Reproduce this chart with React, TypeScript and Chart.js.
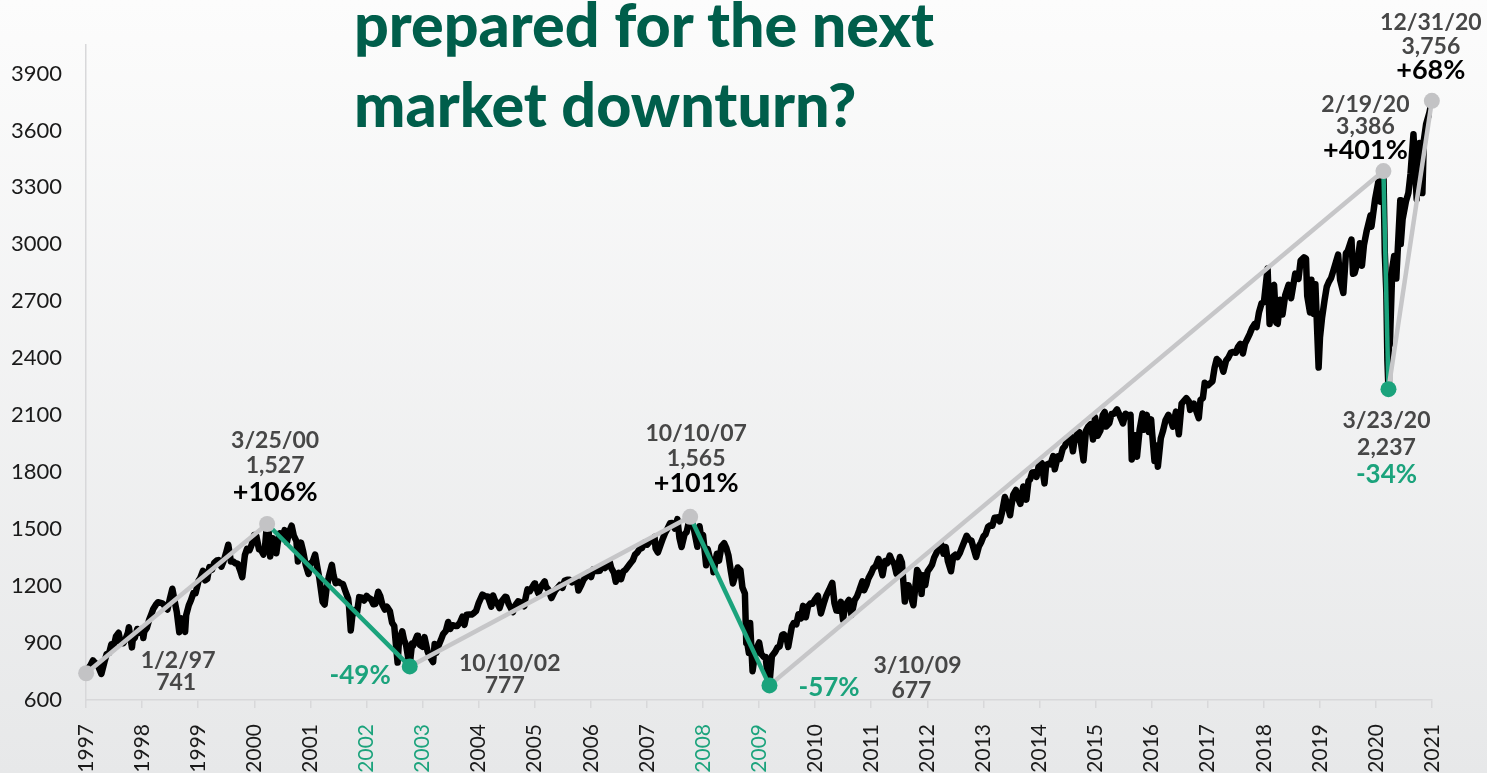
import React, { useEffect, useRef } from "react";
import { Chart, registerables } from "chart.js";

Chart.register(...registerables);

// ---- S&P 500 closes ----
const closeDates = [
  "1997-01-02","1997-01-15","1997-02-01","1997-02-15","1997-03-01","1997-03-15","1997-04-01","1997-04-11","1997-05-01","1997-05-15","1997-06-01","1997-06-15","1997-07-01","1997-07-15","1997-08-01","1997-08-15","1997-09-01","1997-09-15","1997-10-01","1997-10-07","1997-10-27","1997-11-01","1997-11-15","1997-12-01","1997-12-15",
  "1998-01-02","1998-01-09","1998-01-15","1998-02-01","1998-02-15","1998-03-01","1998-03-15","1998-04-01","1998-04-15","1998-05-01","1998-05-15","1998-06-01","1998-06-15","1998-07-01","1998-07-17","1998-08-01","1998-08-15","1998-08-31","1998-09-15","1998-10-08","1998-10-15","1998-11-01","1998-11-15","1998-12-01","1998-12-15",
  "1999-01-04","1999-01-15","1999-02-01","1999-02-15","1999-03-01","1999-03-15","1999-04-01","1999-04-15","1999-05-03","1999-05-14","1999-06-01","1999-06-15","1999-07-01","1999-07-16","1999-08-02","1999-08-16","1999-09-01","1999-09-15","1999-10-01","1999-10-15","1999-11-01","1999-11-15","1999-12-01","1999-12-15","1999-12-31",
  "2000-01-14","2000-02-01","2000-02-15","2000-03-01","2000-03-10","2000-03-24","2000-04-03","2000-04-14","2000-05-01","2000-05-24","2000-06-01","2000-06-15","2000-07-03","2000-07-17","2000-08-01","2000-08-15","2000-09-01","2000-09-15","2000-10-02","2000-10-12","2000-11-01","2000-11-15","2000-12-01","2000-12-20",
  "2001-01-02","2001-01-15","2001-02-01","2001-02-15","2001-03-01","2001-03-22","2001-04-04","2001-04-16","2001-05-01","2001-05-21","2001-06-01","2001-06-15","2001-07-02","2001-07-16","2001-08-01","2001-08-15","2001-09-04","2001-09-10","2001-09-21","2001-10-01","2001-10-15","2001-11-01","2001-11-15","2001-12-03","2001-12-17",
  "2002-01-02","2002-01-15","2002-02-01","2002-02-15","2002-03-01","2002-03-19","2002-04-01","2002-04-15","2002-05-01","2002-05-15","2002-06-03","2002-06-17","2002-07-01","2002-07-23","2002-08-01","2002-08-22","2002-09-03","2002-09-16","2002-10-09","2002-10-25","2002-11-01","2002-11-27","2002-12-02","2002-12-16",
  "2003-01-02","2003-01-14","2003-02-03","2003-02-14","2003-03-11","2003-03-21","2003-04-01","2003-04-15","2003-05-01","2003-05-15","2003-06-02","2003-06-17","2003-07-01","2003-07-15","2003-08-01","2003-08-15","2003-09-02","2003-09-18","2003-10-01","2003-10-15","2003-11-03","2003-11-17","2003-12-01","2003-12-15",
  "2004-01-02","2004-01-26","2004-02-17","2004-03-01","2004-03-24","2004-04-05","2004-04-15","2004-05-03","2004-05-17","2004-06-01","2004-06-23","2004-07-01","2004-07-15","2004-08-12","2004-09-01","2004-09-15","2004-10-01","2004-10-25","2004-11-01","2004-11-15","2004-12-01","2004-12-30",
  "2005-01-03","2005-01-24","2005-02-15","2005-03-07","2005-03-15","2005-04-01","2005-04-20","2005-05-02","2005-05-16","2005-06-01","2005-06-15","2005-07-01","2005-07-15","2005-08-01","2005-08-15","2005-09-01","2005-09-15","2005-10-03","2005-10-13","2005-11-01","2005-11-15","2005-12-01","2005-12-15",
  "2006-01-03","2006-01-17","2006-02-01","2006-02-15","2006-03-01","2006-03-15","2006-04-03","2006-04-21","2006-05-05","2006-05-15","2006-06-01","2006-06-13","2006-07-03","2006-07-17","2006-08-01","2006-08-15","2006-09-01","2006-09-15","2006-10-02","2006-10-16","2006-11-01","2006-11-15","2006-12-01","2006-12-15",
  "2007-01-03","2007-01-16","2007-02-01","2007-02-20","2007-02-27","2007-03-14","2007-04-02","2007-04-16","2007-05-01","2007-05-15","2007-06-01","2007-06-15","2007-07-02","2007-07-19","2007-08-01","2007-08-15","2007-09-04","2007-09-17","2007-10-09","2007-10-15","2007-11-01","2007-11-26","2007-12-10","2007-12-20",
  "2008-01-02","2008-01-22","2008-02-01","2008-02-15","2008-03-03","2008-03-10","2008-04-01","2008-04-15","2008-05-01","2008-05-19","2008-06-02","2008-06-16","2008-07-01","2008-07-15","2008-08-01","2008-08-15","2008-09-02","2008-09-15","2008-10-01","2008-10-10","2008-10-15","2008-10-27","2008-11-04","2008-11-20","2008-12-01","2008-12-15",
  "2009-01-02","2009-01-15","2009-02-02","2009-02-13","2009-03-02","2009-03-09","2009-03-26","2009-04-15","2009-05-01","2009-05-15","2009-06-01","2009-06-12","2009-07-01","2009-07-10","2009-08-03","2009-08-14","2009-09-01","2009-09-15","2009-10-01","2009-10-15","2009-11-02","2009-11-16","2009-12-01","2009-12-15",
  "2010-01-04","2010-01-19","2010-02-08","2010-03-01","2010-03-15","2010-04-01","2010-04-23","2010-05-07","2010-05-20","2010-06-01","2010-06-18","2010-07-02","2010-07-15","2010-08-09","2010-08-26","2010-09-15","2010-10-01","2010-10-15","2010-11-05","2010-11-16","2010-12-01","2010-12-15",
  "2011-01-03","2011-01-14","2011-02-01","2011-02-18","2011-03-16","2011-04-01","2011-04-15","2011-05-02","2011-05-16","2011-06-01","2011-06-15","2011-07-07","2011-07-20","2011-08-08","2011-08-15","2011-09-01","2011-09-22","2011-10-03","2011-10-27","2011-11-15","2011-11-25","2011-12-05","2011-12-19",
  "2012-01-03","2012-01-17","2012-02-01","2012-02-15","2012-03-01","2012-03-26","2012-04-02","2012-04-16","2012-05-01","2012-05-15","2012-06-04","2012-06-19","2012-07-02","2012-07-16","2012-08-01","2012-08-15","2012-09-14","2012-10-01","2012-10-15","2012-11-15","2012-12-03","2012-12-17",
  "2013-01-02","2013-01-15","2013-02-01","2013-02-15","2013-03-01","2013-03-15","2013-04-01","2013-04-18","2013-05-01","2013-05-21","2013-06-03","2013-06-24","2013-07-01","2013-07-15","2013-08-01","2013-08-15","2013-08-30","2013-09-18","2013-10-08","2013-10-22","2013-11-01","2013-11-15","2013-12-02","2013-12-13","2013-12-31",
  "2014-01-15","2014-02-03","2014-02-14","2014-03-03","2014-03-14","2014-04-01","2014-04-11","2014-05-01","2014-05-15","2014-06-02","2014-06-16","2014-07-01","2014-07-24","2014-08-07","2014-08-15","2014-09-02","2014-09-18","2014-10-15","2014-10-31","2014-11-14","2014-12-01","2014-12-16","2014-12-29",
  "2015-01-15","2015-02-02","2015-02-17","2015-03-02","2015-03-11","2015-04-01","2015-04-15","2015-05-01","2015-05-21","2015-06-01","2015-06-29","2015-07-15","2015-08-03","2015-08-17","2015-08-25","2015-09-01","2015-09-16","2015-09-28","2015-10-15","2015-11-03","2015-11-13","2015-12-01","2015-12-14","2015-12-29",
  "2016-01-04","2016-01-20","2016-02-01","2016-02-11","2016-03-01","2016-03-15","2016-04-01","2016-04-20","2016-05-02","2016-05-19","2016-06-08","2016-06-27","2016-07-15","2016-08-15","2016-09-01","2016-09-09","2016-10-03","2016-10-14","2016-11-04","2016-11-15","2016-12-01","2016-12-13",
  "2017-01-03","2017-01-17","2017-02-01","2017-02-15","2017-03-01","2017-03-15","2017-04-03","2017-04-13","2017-05-01","2017-05-15","2017-06-01","2017-06-15","2017-07-03","2017-07-17","2017-08-01","2017-08-18","2017-09-01","2017-09-15","2017-10-02","2017-10-16","2017-11-01","2017-11-15","2017-12-01","2017-12-18",
  "2018-01-02","2018-01-26","2018-02-08","2018-02-26","2018-03-09","2018-03-23","2018-04-02","2018-04-18","2018-05-03","2018-05-21","2018-06-12","2018-06-28","2018-07-25","2018-08-15","2018-08-29","2018-09-20","2018-10-03","2018-10-11","2018-10-29","2018-11-07","2018-11-23","2018-12-03","2018-12-24",
  "2019-01-02","2019-01-15","2019-02-01","2019-02-15","2019-03-01","2019-03-15","2019-04-01","2019-04-30","2019-05-13","2019-06-03","2019-06-20","2019-07-01","2019-07-26","2019-08-05","2019-08-15","2019-09-03","2019-09-19","2019-10-02","2019-10-15","2019-11-01","2019-11-27","2019-12-03","2019-12-27",
  "2020-01-17","2020-01-31","2020-02-19","2020-02-28","2020-03-09","2020-03-16","2020-03-23","2020-03-26","2020-04-01","2020-04-17","2020-04-29","2020-05-13","2020-06-08","2020-06-11","2020-06-23","2020-07-15","2020-07-31","2020-08-14","2020-09-02","2020-09-23","2020-10-12","2020-10-30","2020-11-09","2020-11-24","2020-12-15","2020-12-31",
];

const closeValues = [
  741,765,786,808,795,790,757,737,801,841,848,893,885,935,954,900,899,920,955,983,877,915,928,974,955,
  975,927,960,980,1020,1049,1080,1102,1115,1112,1108,1091,1077,1134,1186,1121,1063,957,1030,959,1047,1099,1125,1164,1162,
  1229,1243,1280,1230,1238,1300,1286,1322,1335,1337,1302,1330,1373,1418,1329,1330,1320,1318,1283,1247,1363,1396,1389,1418,1469,
  1465,1394,1389,1366,1395,1527,1499,1356,1452,1373,1421,1478,1455,1495,1431,1484,1518,1466,1437,1329,1429,1383,1315,1264,
  1320,1326,1366,1301,1240,1117,1103,1183,1249,1312,1256,1215,1224,1215,1211,1178,1134,1092,966,1041,1073,1060,1142,1139,1124,
  1148,1138,1130,1104,1107,1170,1147,1102,1076,1091,1067,1007,990,797,912,962,916,890,777,898,886,938,936,889,
  880,931,856,834,800,895,848,885,917,947,964,1011,975,994,990,990,1008,1039,996,1049,1051,1050,1058,1068,
  1112,1155,1145,1145,1091,1150,1128,1107,1084,1121,1144,1141,1106,1063,1104,1120,1115,1094,1130,1183,1174,1213,
  1212,1163,1201,1225,1198,1181,1137,1157,1178,1192,1206,1191,1228,1234,1233,1220,1228,1229,1177,1207,1233,1249,1270,
  1248,1287,1280,1280,1281,1303,1295,1311,1325,1294,1270,1223,1270,1236,1277,1285,1304,1319,1336,1366,1378,1396,1401,1427,
  1418,1431,1438,1459,1399,1377,1421,1452,1482,1501,1531,1532,1503,1553,1455,1406,1474,1484,1565,1548,1509,1407,1515,1460,
  1468,1310,1395,1349,1331,1273,1370,1334,1409,1426,1400,1360,1280,1214,1260,1298,1283,1192,1161,899,908,848,1005,752,816,868,
  903,843,826,827,700,677,832,852,877,882,942,946,923,879,987,1005,998,1052,1030,1096,1036,1093,1108,1107,
  1133,1150,1056,1115,1150,1178,1217,1110,1071,1070,1117,1022,1096,1127,1047,1125,1146,1176,1225,1178,1206,1242,
  1271,1293,1307,1343,1257,1332,1320,1361,1334,1315,1265,1353,1325,1119,1204,1205,1129,1099,1285,1257,1159,1257,1205,
  1277,1293,1312,1350,1374,1416,1419,1370,1405,1330,1278,1357,1365,1353,1375,1405,1465,1444,1440,1353,1409,1430,
  1462,1472,1513,1520,1518,1560,1562,1541,1582,1669,1640,1573,1614,1682,1706,1661,1633,1725,1655,1754,1761,1798,1800,1775,1848,
  1848,1741,1838,1845,1841,1885,1815,1884,1870,1924,1937,1973,1988,1910,1955,2002,2011,1862,2018,2039,2053,1972,2090,
  1992,2020,2100,2117,2040,2059,2106,2108,2131,2111,2057,2108,2098,2102,1867,1914,1995,1881,2023,2109,2023,2102,2012,2078,
  2012,1859,1940,1829,1978,2016,2073,2102,2081,2040,2119,2000,2161,2190,2171,2128,2161,2133,2085,2180,2191,2271,
  2258,2268,2279,2350,2396,2385,2359,2329,2388,2402,2430,2433,2429,2459,2476,2425,2477,2500,2529,2557,2579,2564,2642,2690,
  2695,2873,2581,2780,2786,2588,2582,2708,2630,2733,2787,2716,2846,2818,2914,2931,2925,2728,2641,2814,2633,2790,2351,
  2510,2610,2707,2776,2803,2822,2867,2946,2812,2744,2954,2964,3025,2845,2848,2906,3006,2887,2996,3067,3153,3093,3240,
  3330,3225,3386,2954,2746,2386,2237,2630,2470,2875,2939,2820,3232,3002,3131,3226,3271,3373,3580,3237,3534,3270,3550,3635,3694,3756,
];

// ---- Peaks and troughs ----
const pivotDates = ["1997-01-02", "2000-03-25", "2002-10-10", "2007-10-10", "2009-03-10", "2020-02-19", "2020-03-23", "2020-12-31"];
const pivotValues = [741, 1527, 777, 1565, 677, 3386, 2237, 3756];
const pivotChanges = ["", "+106%", "-49%", "+101%", "-57%", "+401%", "-34%", "+68%"];

// ---- Axis ----
const yearMin = 1997;
const yearMax = 2021;
const highlightedYears = [2002, 2003, 2008, 2009];

const titleLines = ["prepared for the next", "market downturn?"];

// ---- Styles ----
const GREEN = "#1ba37c";
const GREY_DOT = "#c3c3c5";
const GREY_LINE = "#c6c6c8";
const AXIS_GREY = "#d8d8da";
const LABEL_GREY = "#474747";

// per pivot label placement (pixel offsets from the dot)
const LABEL_LAYOUT = [
  { dx: 92, dateY: -5, valDx: 90, valY: 17 },
  { dx: 8, dateY: -76, valY: -51, chgY: -23 },
  { dx: 100, dateY: 5, valDx: 95, valY: 27, chgDx: -19, chgY: 18, chgAlign: "right" },
  { dx: 6, dateY: -76, valY: -51, chgY: -25 },
  { dx: 148, dateY: -12, valDx: 142, valY: 13, chgDx: 29, chgY: 11, chgAlign: "left" },
  { dx: -18, dateY: -59, valY: -37, chgY: -12 },
  { dx: -2, dateY: 39, valY: 66, chgY: 94 },
  { dx: -1, dateY: -71, valY: -47, chgY: -22 },
];

function toYear(d: string): number {
  const [y, m, dd] = d.split("-").map(Number);
  const t = Date.UTC(y, m - 1, dd);
  const s = Date.UTC(y, 0, 1);
  const e = Date.UTC(y + 1, 0, 1);
  return y + (t - s) / (e - s);
}

function shortDate(d: string): string {
  const [y, m, dd] = d.split("-").map(Number);
  return `${m}/${dd}/${String(y).slice(2)}`;
}

const pivotLabelPlugin = {
  id: "pivotLabels",
  afterDatasetsDraw(chart: any) {
    const { ctx, scales } = chart;
    const x = scales.x;
    const y = scales.y;
    ctx.save();
    pivotDates.forEach((d, i) => {
      const px = x.getPixelForValue(toYear(d));
      const py = y.getPixelForValue(pivotValues[i]);
      const L: any = LABEL_LAYOUT[i];
      ctx.textBaseline = "alphabetic";
      ctx.textAlign = "center";
      ctx.fillStyle = LABEL_GREY;
      ctx.font = "bold 23px Lato";
      ctx.fillText(shortDate(d), px + L.dx, py + L.dateY);
      ctx.fillText(pivotValues[i].toLocaleString("en-US"), px + (L.valDx ?? L.dx), py + L.valY);
      const chg = pivotChanges[i];
      if (chg) {
        const neg = chg.startsWith("-");
        ctx.fillStyle = neg ? GREEN : "#000";
        ctx.font = neg ? "bold 26px Lato" : "bold 27px Lato";
        ctx.textAlign = L.chgAlign ?? "center";
        ctx.fillText(chg, px + (L.chgDx ?? L.dx), py + L.chgY);
      }
    });
    ctx.restore();
  },
};

export default function App() {
  const canvasRef = useRef<HTMLCanvasElement | null>(null);

  useEffect(() => {
    if (!canvasRef.current) return;
    const closeSeries = closeDates.map((d, i) => ({ x: toYear(d), y: closeValues[i] }));
    const pivotSeries = pivotDates.map((d, i) => ({ x: toYear(d), y: pivotValues[i] }));

    const chart = new Chart(canvasRef.current, {
      type: "line",
      data: {
        datasets: [
          {
            label: "Peaks and troughs",
            data: pivotSeries,
            order: 0,
            clip: false,
            borderWidth: 4.5,
            pointRadius: 8,
            pointHoverRadius: 8,
            pointBorderWidth: 0,
            pointBackgroundColor: pivotValues.map((v, i) =>
              i > 0 && v < pivotValues[i - 1] ? GREEN : GREY_DOT
            ),
            segment: {
              borderColor: (c: any) => (c.p1.parsed.y < c.p0.parsed.y ? GREEN : GREY_LINE),
            },
            borderColor: GREY_LINE,
            tension: 0,
          },
          {
            label: "S&P 500",
            data: closeSeries,
            order: 1,
            borderColor: "#000",
            borderWidth: 6.5,
            borderJoinStyle: "round",
            borderCapStyle: "round",
            pointRadius: 0,
            tension: 0,
          },
        ],
      },
      options: {
        animation: false,
        responsive: false,
        devicePixelRatio: 1,
        layout: { padding: { left: 0, right: 55, top: 45, bottom: 0 } },
        plugins: {
          legend: { display: false },
          tooltip: { enabled: false },
          title: { display: false },
        },
        scales: {
          x: {
            type: "linear",
            min: yearMin,
            max: yearMax,
            afterFit: (s: any) => {
              s.height = 100;
            },
            ticks: {
              stepSize: 1,
              autoSkip: false,
              minRotation: 90,
              maxRotation: 90,
              padding: 16,
              font: { family: "Lato", size: 21 },
              color: (c: any) => (highlightedYears.includes(c.tick?.value) ? GREEN : "#1a1a1a"),
              callback: (v: any) => String(v),
            },
            grid: { drawOnChartArea: false, drawTicks: true, tickLength: 8, color: AXIS_GREY, lineWidth: 1.5 },
            border: { color: AXIS_GREY, width: 1.5 },
          },
          y: {
            min: 600,
            max: 4050,
            afterFit: (s: any) => {
              s.width = 86;
            },
            afterBuildTicks: (s: any) => {
              s.ticks = s.ticks.filter((t: any) => t.value % 300 === 0);
            },
            ticks: {
              stepSize: 300,
              padding: 24,
              font: { family: "Lato", size: 22 },
              color: "#1a1a1a",
              callback: (v: any) => String(v),
            },
            grid: { drawOnChartArea: false, drawTicks: false },
            border: { color: AXIS_GREY, width: 1.5 },
          },
        },
      },
      plugins: [pivotLabelPlugin],
    } as any);

    return () => chart.destroy();
  }, []);

  return (
    <div
      style={{
        position: "absolute",
        left: 0,
        top: 0,
        width: 1487,
        height: 773,
        overflow: "hidden",
        background: "linear-gradient(#fcfcfc, #e7e8e9)",
      }}
    >
      <canvas ref={canvasRef} width={1487} height={800} style={{ position: "absolute", left: 0, top: 0 }} />
      <div
        style={{
          position: "absolute",
          left: 354,
          top: -16,
          fontFamily: "Lato",
          fontWeight: 900,
          fontSize: 61,
          lineHeight: "80px",
          color: "#005e4b",
          whiteSpace: "nowrap",
        }}
      >
        {titleLines.map((t) => (
          <div key={t}>{t}</div>
        ))}
      </div>
    </div>
  );
}
